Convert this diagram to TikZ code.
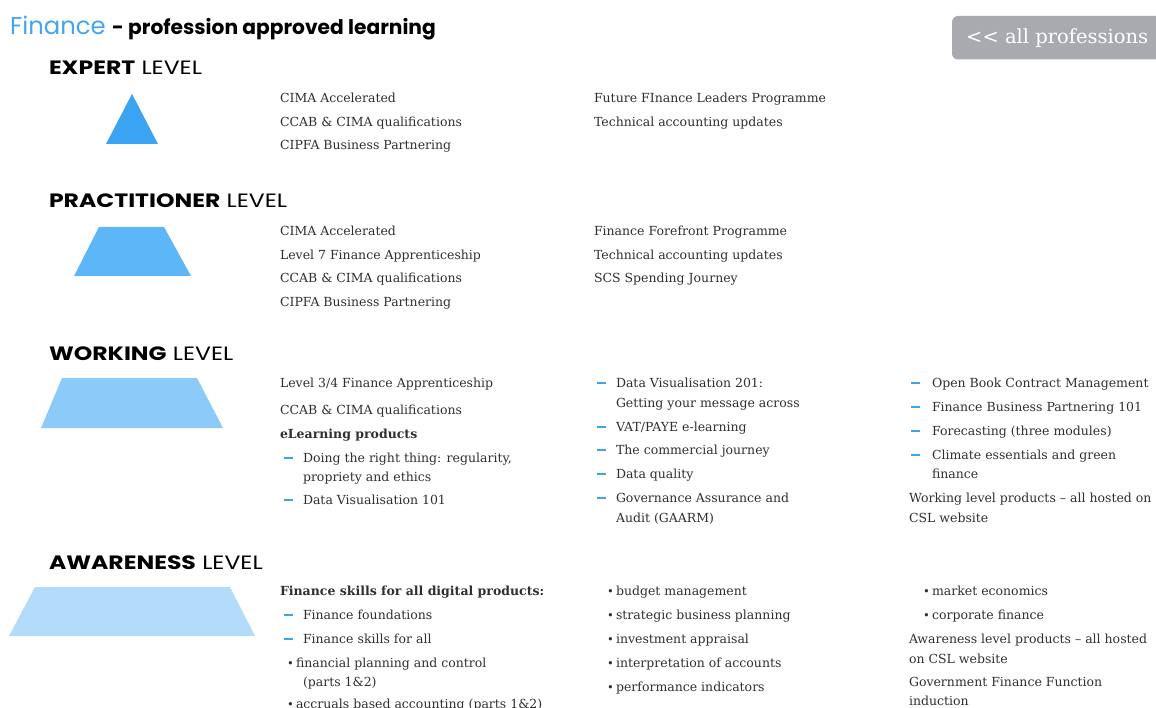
\documentclass[tikz,border=0pt]{standalone}
\usepackage{fontspec}
\setmainfont{DejaVu Serif}
\newfontfamily\headfont{Poppins}
\newfontfamily\headwide{Poppins}[FakeStretch=1.22]
\definecolor{titleblue}{HTML}{42A5EE}
\definecolor{dashblue}{HTML}{3FA3EC}
\definecolor{bodygrey}{HTML}{2F2F2F}
\definecolor{btngrey}{HTML}{A9AAAF}
\definecolor{lvlexpert}{HTML}{3AA3F2}
\definecolor{lvlpract}{HTML}{5DB6F7}
\definecolor{lvlwork}{HTML}{8CCBF9}
\definecolor{lvlaware}{HTML}{B3DCFA}
\newcommand\txtfont{\fontsize{12.5}{15}\selectfont}
\tikzset{
  body/.style={anchor=base west, inner sep=0pt, outer sep=0pt, text=bodygrey, font=\txtfont},
  bodybold/.style={body, font=\txtfont\bfseries},
  % short blue bar used as list dash, sitting 4 units above the text baseline
  dashmark/.style={anchor=west, inner sep=0pt, outer sep=0pt, fill=dashblue, draw=none,
                   minimum width=9pt, minimum height=2pt, yshift=4pt},
  dotmark/.style={anchor=base west, inner sep=0pt, outer sep=0pt, text=bodygrey, font=\fontsize{11.5}{12}\selectfont},
  levelhead/.style={anchor=base west, inner sep=0pt, outer sep=0pt, text=black, font=\headwide\fontsize{19.3}{21}\selectfont},
}
\begin{document}
\begin{tikzpicture}[x=1pt, y=-1pt]
\useasboundingbox (0,0) rectangle (1156,708);
\clip (0,0) rectangle (1156,708);

% title line
\node[anchor=base west, inner sep=0pt, text=titleblue, font=\headfont\fontsize{24.3}{26}\selectfont] (title) at (10,34.5) {Finance};
\node[anchor=base west, inner sep=0pt, text=black, font=\headfont\bfseries\fontsize{20.2}{22}\selectfont] (subtitle) at (112,34.5) {- profession approved learning};

% back button
\fill[btngrey, rounded corners=6pt] (952,16) rectangle (1175,59.5);
\node[anchor=base west, inner sep=0pt, text=white, font=\fontsize{19.5}{22}\selectfont] (back) at (966,43.3) {{<}{<} all professions};

% level pyramid pieces
\fill[lvlexpert] (132,94) -- (158,144) -- (106,144) -- cycle;
\fill[lvlpract] (99,227) -- (164,227) -- (191,276) -- (74,276) -- cycle;
\fill[lvlwork] (62,378) -- (197,378) -- (223,428) -- (41,428) -- cycle;
\fill[lvlaware] (35,587) -- (230,587) -- (255,636) -- (9,636) -- cycle;

% level headings
\node[levelhead] (hexpert) at (49,75) {\textbf{EXPERT} LEVEL};
\node[levelhead] (hpract) at (49,208) {\textbf{PRACTITIONER} LEVEL};
\node[levelhead] (hwork) at (49,360) {\textbf{WORKING} LEVEL};
\node[levelhead] (haware) at (49,569) {\textbf{AWARENESS} LEVEL};

% expert level
\node[body] (e1) at (280,103) {CIMA Accelerated};
\node[body] (e2) at (280,127) {CCAB \& CIMA qualifications};
\node[body] (e3) at (280,150) {CIPFA Business Partnering};
\node[body] (e4) at (594,103) {Future FInance Leaders Programme};
\node[body] (e5) at (594,127) {Technical accounting updates};

% practitioner level
\node[body] (p1) at (280,236) {CIMA Accelerated};
\node[body] (p2) at (280,260) {Level 7 Finance Apprenticeship};
\node[body] (p3) at (280,283) {CCAB \& CIMA qualifications};
\node[body] (p4) at (280,307) {CIPFA Business Partnering};
\node[body] (p5) at (594,236) {Finance Forefront Programme};
\node[body] (p6) at (594,260) {Technical accounting updates};
\node[body] (p7) at (594,283) {SCS Spending Journey};

% working level, first column
\node[body] (w1) at (280,387) {Level 3/4 Finance Apprenticeship};
\node[body] (w2) at (280,414) {CCAB \& CIMA qualifications};
\node[bodybold] (w3) at (280,438) {eLearning products};
\node[dashmark] (wd1) at (284,462) {};
\node[body] (w4) at (303,462) {Doing the right thing: regularity,};
\node[body] (w5) at (303,481) {propriety and ethics};
\node[dashmark] (wd2) at (284,504) {};
\node[body] (w6) at (303,504) {Data Visualisation 101};

% working level, second column
\node[dashmark] (wd3) at (597,387) {};
\node[body] (w7) at (616,387) {Data Visualisation 201:};
\node[body] (w8) at (616,407) {Getting your message across};
\node[dashmark] (wd4) at (597,431) {};
\node[body] (w9) at (616,431) {VAT/PAYE e-learning};
\node[dashmark] (wd5) at (597,454) {};
\node[body] (w10) at (616,454) {The commercial journey};
\node[dashmark] (wd6) at (597,478) {};
\node[body] (w11) at (616,478) {Data quality};
\node[dashmark] (wd7) at (597,502) {};
\node[body] (w12) at (616,502) {Governance Assurance and};
\node[body] (w13) at (616,522) {Audit (GAARM)};

% working level, third column
\node[dashmark] (wd8) at (911,387) {};
\node[body] (w14) at (932,387) {Open Book Contract Management};
\node[dashmark] (wd9) at (911,411) {};
\node[body] (w15) at (932,411) {Finance Business Partnering 101};
\node[dashmark] (wd10) at (911,435) {};
\node[body] (w16) at (932,435) {Forecasting (three modules)};
\node[dashmark] (wd11) at (911,459) {};
\node[body] (w17) at (932,459) {Climate essentials and green};
\node[body] (w18) at (932,478) {finance};
\node[body] (w19) at (909,502) {Working level products – all hosted on};
\node[body] (w20) at (909,522) {CSL website};

% awareness level, first column
\node[bodybold] (a1) at (280,595) {Finance skills for all digital products:};
\node[dashmark] (ad1) at (284,619) {};
\node[body] (a2) at (303,619) {Finance foundations};
\node[dashmark] (ad2) at (284,643) {};
\node[body] (a3) at (303,643) {Finance skills for all};
\node[dotmark] (ab1) at (287,667) {•};
\node[body] (a4) at (296,667) {financial planning and control};
\node[body] (a5) at (303,686) {(parts 1\&2)};
\node[dotmark] (ab2) at (287,708) {•};
\node[body] (a6) at (296,708) {accruals based accounting (parts 1\&2)};

% awareness level, second column
\node[dotmark] (ab3) at (607,595) {•};
\node[body] (a7) at (616,595) {budget management};
\node[dotmark] (ab4) at (607,619) {•};
\node[body] (a8) at (616,619) {strategic business planning};
\node[dotmark] (ab5) at (607,643) {•};
\node[body] (a9) at (616,643) {investment appraisal};
\node[dotmark] (ab6) at (607,667) {•};
\node[body] (a10) at (616,667) {interpretation of accounts};
\node[dotmark] (ab7) at (607,691) {•};
\node[body] (a11) at (616,691) {performance indicators};

% awareness level, third column
\node[dotmark] (ab8) at (923,595) {•};
\node[body] (a12) at (932,595) {market economics};
\node[dotmark] (ab9) at (923,619) {•};
\node[body] (a13) at (932,619) {corporate finance};
\node[body] (a14) at (909,643) {Awareness level products – all hosted};
\node[body] (a15) at (909,663) {on CSL website};
\node[body] (a16) at (909,686) {Government Finance Function};
\node[body] (a17) at (909,705) {induction};
\end{tikzpicture}
\end{document}
